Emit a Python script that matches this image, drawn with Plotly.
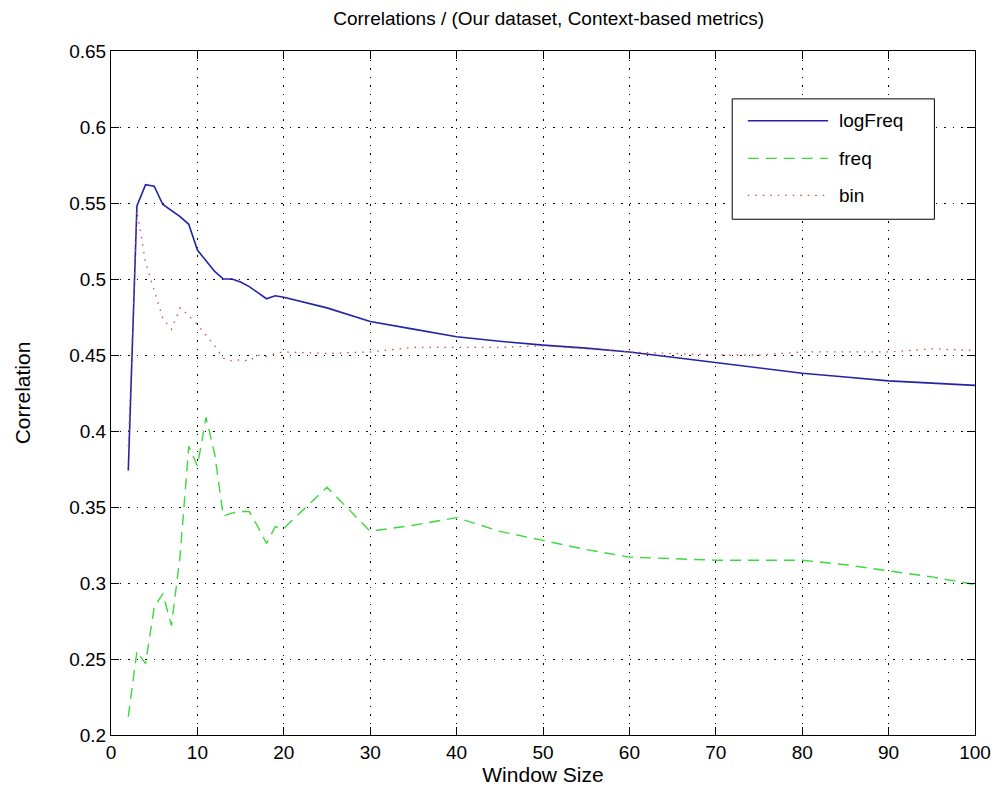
import plotly.graph_objects as go

# Window sizes evaluated
window_size = list(range(2, 21)) + list(range(25, 101, 5))

# Correlation per weighting scheme
log_freq = [0.374, 0.548, 0.562, 0.561, 0.549, 0.545, 0.541, 0.536, 0.519, 0.512,
            0.505, 0.500, 0.500, 0.498, 0.495, 0.491, 0.487, 0.489, 0.488,
            0.481, 0.472, 0.467, 0.462, 0.459, 0.4565, 0.4545, 0.452, 0.4485,
            0.445, 0.4415, 0.438, 0.4355, 0.433, 0.4315, 0.430]
freq = [0.212, 0.255, 0.247, 0.284, 0.293, 0.272, 0.318, 0.390, 0.377, 0.409,
        0.385, 0.344, 0.346, 0.347, 0.347, 0.337, 0.326, 0.337, 0.336,
        0.363, 0.334, 0.338, 0.343, 0.334, 0.328, 0.322, 0.317, 0.316,
        0.315, 0.315, 0.315, 0.312, 0.308, 0.304, 0.299]
binary = [0.390, 0.545, 0.511, 0.492, 0.474, 0.467, 0.481, 0.476, 0.470, 0.463,
          0.456, 0.448, 0.446, 0.447, 0.446, 0.450, 0.449, 0.451, 0.452,
          0.451, 0.452, 0.455, 0.455, 0.455, 0.456, 0.454, 0.452, 0.451,
          0.450, 0.450, 0.452, 0.452, 0.452, 0.454, 0.453]

x_ticks = list(range(0, 101, 10))
y_ticks = [0.2, 0.25, 0.3, 0.35, 0.4, 0.45, 0.5, 0.55, 0.6, 0.65]
y_tick_text = ["0.2", "0.25", "0.3", "0.35", "0.4", "0.45", "0.5", "0.55", "0.6", "0.65"]

FONT = "Liberation Sans Narrow, Liberation Sans, Arial, sans-serif"
BLUE = "#2323a8"
GREEN = "#3cd83c"
RED = "#d04848"

series = [
    ("logFreq", log_freq, dict(color=BLUE, width=1.6, dash="solid")),
    ("freq", freq, dict(color=GREEN, width=1.4, dash="11px,7px")),
    ("bin", binary, dict(color=RED, width=1.3, dash="1.5px,6px")),
]

fig = go.Figure()
for name, vals, line in series:
    fig.add_trace(go.Scatter(x=window_size, y=vals, mode="lines", name=name,
                             line=line, showlegend=False))

axis_common = dict(
    showline=True, linecolor="black", linewidth=1, mirror="ticks",
    ticks="inside", ticklen=8, tickcolor="black",
    showgrid=True, gridcolor="black", gridwidth=1, griddash="1.5px,7px",
    zeroline=False, tickfont=dict(family=FONT, size=19, color="black"),
)

fig.update_layout(
    width=1003, height=807,
    margin=dict(l=111, r=26, t=51, b=72),
    paper_bgcolor="white", plot_bgcolor="white",
    title=dict(text="Correlations / (Our dataset, Context-based metrics)",
               x=0.547, xanchor="center", y=1 - 18 / 807, yanchor="middle",
               yref="container", font=dict(family=FONT, size=19, color="black")),
    xaxis=dict(range=[0, 100], tickvals=x_ticks,
               title=dict(text="Window Size", standoff=3,
                          font=dict(family=FONT, size=21, color="black")),
               **axis_common),
    yaxis=dict(range=[0.2, 0.65], tickvals=y_ticks, ticktext=y_tick_text,
               title=dict(text="Correlation", standoff=32,
                          font=dict(family=FONT, size=21, color="black")),
               **axis_common),
)

# Legend box, drawn in paper coordinates at the upper right
lx0, lx1, ly0, ly1 = 0.719, 0.953, 0.754, 0.930
fig.add_shape(type="rect", xref="paper", yref="paper", x0=lx0, x1=lx1, y0=ly0, y1=ly1,
              line=dict(color="black", width=1), fillcolor="white", layer="above")
row_y = [0.898, 0.843, 0.789]
for (name, _, line), ry in zip(series, row_y):
    fig.add_shape(type="line", xref="paper", yref="paper", x0=0.737, x1=0.830,
                  y0=ry, y1=ry, line=line, layer="above")
    fig.add_annotation(text=name, xref="paper", yref="paper", x=0.840, y=ry,
                       xanchor="left", yanchor="middle", showarrow=False,
                       font=dict(family=FONT, size=19, color="black"))

fig.write_html("out.html")
